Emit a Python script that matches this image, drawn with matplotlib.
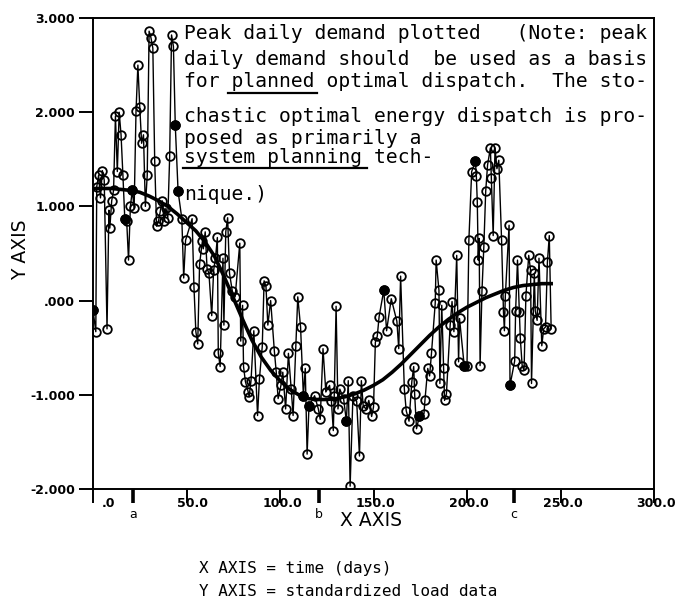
import matplotlib
matplotlib.use("Agg")
import matplotlib.pyplot as plt
from matplotlib.lines import Line2D
from matplotlib.transforms import ScaledTranslation

# standardized peak daily load
days = [
    0, 1.5, 2, 3, 4, 5, 6, 7.5, 8.5, 9, 10, 11, 12, 13, 14, 15, 16, 17, 18, 19,
    20, 21, 22, 23, 24, 25, 26, 27, 28, 29, 30, 31, 32, 33, 34, 35, 36, 37, 38, 39,
    40, 41, 42, 43, 44, 45.5, 47.5, 48.5, 49.5, 53, 54, 55, 56, 57, 58.5, 59, 60, 61, 62, 63.5,
    64.5, 65.5, 66.5, 67, 68, 69.5, 70, 71, 72, 73, 74.5, 76, 78.5, 79, 80, 80.5, 81.5, 83, 83.5, 84.5,
    86, 88, 89, 90.5, 91.5, 92.5, 93.5, 95, 97, 98, 99, 100.5, 101.5, 103, 104.5, 106, 107, 108.5, 109.5, 111,
    112.5, 113.5, 114.5, 115.5, 118.5, 120.5, 121.5, 123, 124.5, 126.5, 127.5, 128.5, 129, 130, 131, 132, 134, 135.5, 136.5, 137.5,
    139, 141, 142.5, 143.5, 144.5, 146, 147.5, 149, 150, 151, 152, 153, 155.5, 157, 159.5, 162.5, 163.5, 164.5, 166.5, 167.5,
    169, 170.5, 171.5, 172, 173, 174.5, 177, 177.5, 179, 180, 181, 183, 183.5, 185, 185.5, 186.5, 187.5, 188, 189, 191,
    192, 193, 194.5, 195.5, 196, 198.5, 200, 201, 202.5, 204.5, 205, 205.5, 206, 206.5, 207, 208, 209, 210, 211, 212.5,
    213, 214, 215, 216, 217, 218.5, 219.5, 220, 220.5, 222.5, 223, 225.5, 226, 227, 228, 228.5, 229.5, 230.5, 231.5, 233,
    234, 234.5, 236, 236.5, 237.5, 238.5, 240, 241, 242, 243, 244, 245,
]
load = [
    -0.10, -0.33, 1.21, 1.33, 1.09, 1.38, 1.28, -0.30, 0.96, 0.77, 1.06, 1.17, 1.96, 1.37, 2.00, 1.76, 1.33, 0.87, 0.85, 0.43,
    1.00, 1.17, 0.98, 2.01, 2.50, 2.06, 1.67, 1.76, 1.00, 1.33, 2.86, 2.79, 2.68, 1.48, 0.79, 0.84, 0.95, 1.06, 0.84, 0.98,
    0.88, 1.53, 2.82, 2.70, 1.86, 1.16, 0.87, 0.24, 0.64, 0.87, 0.14, -0.33, -0.46, 0.39, 0.63, 0.55, 0.73, 0.34, 0.29, -0.16,
    0.32, 0.45, 0.67, -0.56, -0.70, 0.45, -0.26, 0.73, 0.88, 0.29, 0.10, 0.04, 0.61, -0.43, -0.05, -0.70, -0.86, -0.97, -1.02, -0.85,
    -0.32, -1.22, -0.83, -0.49, 0.21, 0.15, -0.26, 0.00, -0.54, -0.76, -1.04, -0.90, -0.76, -1.15, -0.56, -0.94, -1.22, -0.48, 0.04, -0.28,
    -1.01, -0.72, -1.63, -1.12, -1.01, -1.15, -1.26, -0.51, -0.97, -0.90, -1.07, -1.38, -1.01, -0.06, -1.15, -0.94, -1.04, -1.28, -0.85, -1.97,
    -1.01, -1.07, -1.65, -0.85, -1.12, -1.15, -1.06, -1.23, -1.13, -0.44, -0.38, -0.17, 0.11, -0.32, 0.02, -0.22, -0.51, 0.26, -0.94, -1.17,
    -1.28, -0.86, -0.70, -0.99, -1.36, -1.23, -1.20, -1.06, -0.72, -0.80, -0.56, -0.03, 0.43, 0.11, -0.88, -0.05, -0.72, -1.06, -0.99, -0.26,
    -0.01, -0.33, 0.48, -0.65, -0.19, -0.69, -0.69, 0.64, 1.37, 1.48, 1.32, 1.05, 0.43, 0.66, -0.69, 0.10, 0.57, 1.16, 1.44, 1.62,
    1.30, 0.69, 1.62, 1.40, 1.49, 0.64, -0.12, -0.32, 0.05, 0.80, -0.90, -0.64, -0.11, 0.43, -0.12, -0.40, -0.69, -0.74, 0.05, 0.48,
    0.32, -0.88, 0.29, -0.11, -0.21, 0.45, -0.48, -0.30, -0.28, 0.41, 0.69, -0.30,
]
# points printed as solid dots
filled_days = [0, 17, 21, 44, 45.5, 112.5, 115.5, 135.5, 155.5, 174.5, 198.5, 204.5, 223]

# smooth fitted curve
trend_days = [0, 5, 10, 15, 20, 25, 30, 35, 40, 45, 50, 55, 60, 65, 70, 75, 80, 85, 90, 95,
              100, 105, 110, 115, 120, 125, 130, 135, 140, 145, 150, 155, 160, 165, 170, 175, 180, 185, 190, 195,
              200, 205, 210, 215, 220, 225, 230, 235, 240, 245]
trend_vals = [1.19, 1.19, 1.19, 1.18, 1.17, 1.15, 1.11, 1.06, 1.00, 0.92, 0.83, 0.74, 0.62, 0.47, 0.26, 0.03, -0.20, -0.42, -0.60, -0.74,
              -0.85, -0.94, -1.00, -1.04, -1.05, -1.05, -1.04, -1.02, -0.99, -0.95, -0.90, -0.84, -0.76, -0.67, -0.57, -0.47, -0.37, -0.28, -0.20, -0.13,
              -0.07, -0.02, 0.03, 0.07, 0.11, 0.14, 0.16, 0.17, 0.18, 0.18]

x_ticks = [0, 50, 100, 150, 200, 250, 300]
x_labels = [".0", "50.0", "100.0", "150.0", "200.0", "250.0", "300.0"]
y_ticks = [-2, -1, 0, 1, 2, 3]
y_labels = ["-2.000", "-1.000", ".000", "1.000", "2.000", "3.000"]
mark_days = [21.5, 121, 225]
mark_labels = ["a", "b", "c"]

note_lines = [
    "Peak daily demand plotted   (Note: peak",
    "daily demand should  be used as a basis",
    "for planned optimal dispatch.  The sto-",
    "chastic optimal energy dispatch is pro-",
    "posed as primarily a",
    "system planning tech-",
    "nique.)",
]
note_baselines = [39, 65, 87, 122, 144, 163, 200]

W, H = 686, 607
fig = plt.figure(figsize=(W / 100, H / 100), dpi=100)
ax = fig.add_axes([93 / W, 1 - 489 / H, (654 - 93) / W, (489 - 18) / H])

ax.plot(days, load, "-", color="black", lw=1.0,
        marker="o", ms=6.2, mfc="none", mec="black", mew=1.3)
fdict = dict(zip(days, load))
ax.plot(filled_days, [fdict[d] for d in filled_days], "o", ms=6.5,
        color="black", ls="none")
ax.plot(trend_days, trend_vals, "-", color="black", lw=2.6)

ax.set_xlim(0, 300)
ax.set_ylim(-2, 3)
for s in ax.spines.values():
    s.set_linewidth(1.4)

ax.set_xticks(x_ticks)
ax.set_xticklabels(x_labels, fontsize=9, fontweight="bold")
ax.set_yticks(y_ticks)
ax.set_yticklabels(y_labels, fontsize=9, fontweight="bold")
ax.tick_params(axis="x", which="major", direction="out", length=10, width=1.4, pad=-4)
ax.tick_params(axis="y", which="major", direction="out", length=10, width=1.4, pad=3)
shift = ScaledTranslation(22 / 100, 0, fig.dpi_scale_trans)
for lab in ax.get_xticklabels():
    lab.set_ha("right")
    lab.set_transform(lab.get_transform() + shift)

ax.set_xticks(mark_days, minor=True)
ax.set_xticklabels(mark_labels, minor=True, fontsize=9)
ax.tick_params(axis="x", which="minor", direction="out", length=10, width=2.6, pad=4)

fig.text(21 / W, 1 - 250 / H, "Y AXIS", rotation=90, ha="center", va="center", fontsize=13.5)
fig.text(371 / W, 1 - 520 / H, "X AXIS", ha="center", va="center", fontsize=13.5)

mono = "DejaVu Sans Mono"
for line, base in zip(note_lines, note_baselines):
    fig.text(184 / W, 1 - base / H, line, family=mono, fontsize=14.1,
             ha="left", va="baseline")
for x0, x1, yy in [(228, 317, 93), (183, 367, 168)]:
    fig.add_artist(Line2D([x0 / W, x1 / W], [1 - yy / H, 1 - yy / H],
                          transform=fig.transFigure, color="black", lw=1.6))

fig.text(199 / W, 1 - 568 / H, "X AXIS = time (days)", family=mono, fontsize=11.5,
         ha="left", va="center")
fig.text(199 / W, 1 - 592 / H, "Y AXIS = standardized load data", family=mono, fontsize=11.5,
         ha="left", va="center")

fig.savefig("out.png", dpi=100)
